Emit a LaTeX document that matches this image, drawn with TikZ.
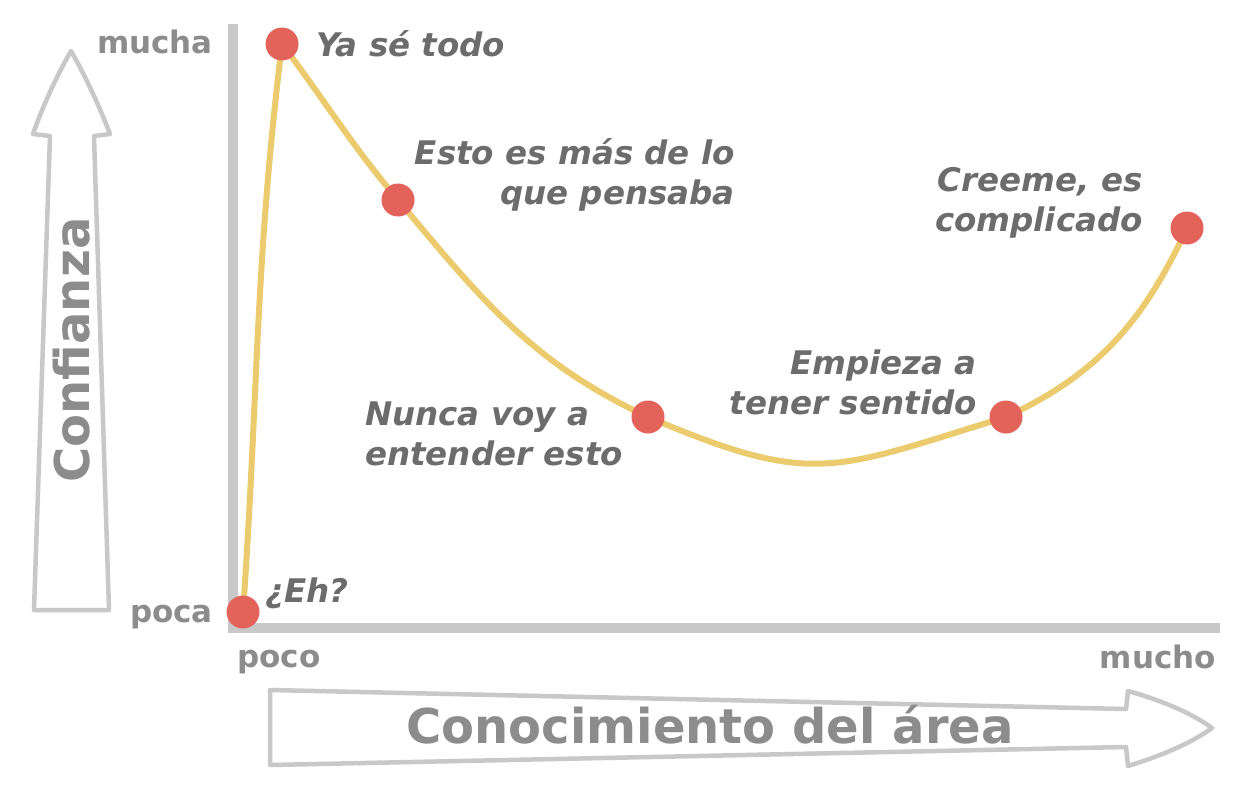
\documentclass[tikz,border=0pt]{standalone}
\usepackage{fontspec}
\setmainfont{DejaVu Sans}
\definecolor{axisgray}{HTML}{C8C8C8}
\definecolor{axislabel}{HTML}{8C8C8C}
\definecolor{curvelabel}{HTML}{6C6C6C}
\definecolor{curvecol}{HTML}{EBCB6E}
\definecolor{dotcol}{HTML}{E3635B}
\tikzset{
  dotnode/.style={circle,fill=dotcol,inner sep=0pt,minimum size=33pt},
  curvetext/.style={inner sep=0pt,text=curvelabel,font=\fontsize{32.5}{40}\selectfont\bfseries\itshape},
  axistext/.style={inner sep=0pt,text=axislabel,font=\fontsize{31}{36}\selectfont\bfseries},
  bigtext/.style={inner sep=0pt,text=axislabel,font=\fontsize{48}{52}\selectfont\bfseries},
  arrowshape/.style={draw=axisgray,line width=4.5pt,line join=round,fill=white},
  curveline/.style={draw=curvecol,line width=6pt,line cap=round}
}
\begin{document}
\begin{tikzpicture}[x=1pt,y=-1pt]
\useasboundingbox[fill=white] (0,0) rectangle (1246,792);
% axes
\fill[axisgray] (228,24) rectangle (238,633);
\fill[axisgray] (228,623) rectangle (1220,633);
% big arrows
\draw[arrowshape] (34,610) -- (50,136) -- (33,134) .. controls (45,100) and (60,70) .. (71,51)
  .. controls (82,70) and (97,100) .. (110,134) -- (94,136) -- (109,610) -- cycle;
\draw[arrowshape] (270,690) -- (1126,709) -- (1128,691) .. controls (1160,700) and (1190,712) .. (1212,728)
  .. controls (1190,744) and (1160,756) .. (1128,766) -- (1126,747) -- (270,765) -- cycle;
% curve points
\coordinate (p1) at (243,612);
\coordinate (p2) at (282,44);
\coordinate (p3) at (398,200);
\coordinate (p4) at (648,417);
\coordinate (p5) at (1006,417);
\coordinate (p6) at (1187,228);
\draw[curveline] (p1) to[out=86,in=-97] (p2);
\draw[curveline] (p2) to[out=-53,in=130] (p3) to[out=-50,in=155] (p4)
  to[out=-23,in=197,looseness=1.3] (p5) to[out=25,in=-115] (p6);
\node[dotnode] (d1) at (p1) {};
\node[dotnode] (d2) at (p2) {};
\node[dotnode] (d3) at (p3) {};
\node[dotnode] (d4) at (p4) {};
\node[dotnode] (d5) at (p5) {};
\node[dotnode] (d6) at (p6) {};
% curve labels
\node[curvetext,anchor=west] (l1) at (265,593) {¿Eh?};
\node[curvetext,anchor=west] (l2) at (316,44) {Ya sé todo};
\node[curvetext,anchor=east,align=right] (l3) at (735,175) {Esto es más de lo\\que pensaba};
\node[curvetext,anchor=west,align=left] (l4) at (365,434) {Nunca voy a\\entender esto};
\node[curvetext,anchor=east,align=right] (l5) at (977,382) {Empieza a\\tener sentido};
\node[curvetext,anchor=east,align=right] (l6) at (1143,203) {Creeme, es\\complicado};
% axis labels
\node[axistext,anchor=east] (mucha) at (213,42) {mucha};
\node[axistext,anchor=east] (poca) at (213,617) {poca};
\node[axistext,anchor=west] (poco) at (237,662) {poco};
\node[axistext,anchor=east] (mucho) at (1216,657) {mucho};
\node[bigtext,rotate=90] (conf) at (72,350) {Confianza};
\node[bigtext] (conoc) at (710,725) {Conocimiento del área};
\end{tikzpicture}
\end{document}
